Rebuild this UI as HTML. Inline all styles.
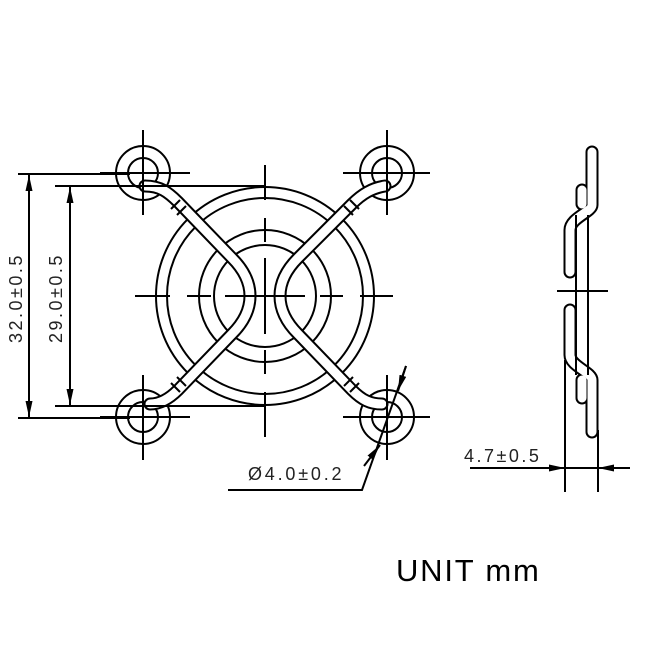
<!DOCTYPE html>
<html><head><meta charset="utf-8"><style>
html,body{margin:0;padding:0;background:#fff}
svg{display:block}
text{font-family:"Liberation Sans",sans-serif;fill:#222}
</style></head><body>
<svg width="645" height="645" viewBox="0 0 645 645" xmlns="http://www.w3.org/2000/svg">
<defs>
<marker id="a" viewBox="0 0 16 10" refX="16" refY="5" markerWidth="16" markerHeight="10" orient="auto-start-reverse" markerUnits="userSpaceOnUse"><path d="M0,1.5 L16,5 L0,8.5z" fill="#000"/></marker>
</defs>
<g fill="none" stroke="#000" stroke-width="2">
<circle cx="265" cy="296" r="109"/>
<circle cx="265" cy="296" r="98"/>
<circle cx="265" cy="296" r="66"/>
<circle cx="265" cy="296" r="51"/>
<circle cx="143" cy="173" r="27"/><circle cx="143" cy="173" r="15"/>
<circle cx="387" cy="173" r="27"/><circle cx="387" cy="173" r="15"/>
<circle cx="143" cy="417" r="27"/><circle cx="143" cy="417" r="15"/>
<circle cx="387" cy="417" r="27"/><circle cx="387" cy="417" r="15"/>
</g>
<g fill="none" stroke-linecap="round" stroke-linejoin="round">
<path d="M145,186 C160,186 168,192 178,202 L232,258 C256,282 256,310 232,334 L178,390 C170,398 160,404 150,404" stroke="#000" stroke-width="13"/>
<path d="M145,186 C160,186 168,192 178,202 L232,258 C256,282 256,310 232,334 L178,390 C170,398 160,404 150,404" stroke="#fff" stroke-width="9"/>
<path d="M385,186 C372,188 362,194 352,204 L298,258 C274,282 274,310 298,334 L352,390 C362,400 370,404 382,404" stroke="#000" stroke-width="13"/>
<path d="M385,186 C372,188 362,194 352,204 L298,258 C274,282 274,310 298,334 L352,390 C362,400 370,404 382,404" stroke="#fff" stroke-width="9"/>
</g>
<g stroke="#000" stroke-width="2" fill="none">
<line x1="171" y1="209" x2="180" y2="200"/><line x1="177" y1="215" x2="186" y2="206"/>
<line x1="171" y1="383" x2="180" y2="392"/><line x1="177" y1="377" x2="186" y2="386"/>
<line x1="359" y1="209" x2="350" y2="200"/><line x1="353" y1="215" x2="344" y2="206"/>
<line x1="359" y1="383" x2="350" y2="392"/><line x1="353" y1="377" x2="344" y2="386"/>
<line x1="265" y1="165" x2="265" y2="200"/><line x1="265" y1="218" x2="265" y2="242"/>
<line x1="265" y1="258" x2="265" y2="334"/><line x1="265" y1="350" x2="265" y2="374"/>
<line x1="265" y1="392" x2="265" y2="437"/>
<line x1="135" y1="296" x2="170" y2="296"/><line x1="187" y1="296" x2="211" y2="296"/>
<line x1="225" y1="296" x2="305" y2="296"/><line x1="320" y1="296" x2="343" y2="296"/>
<line x1="360" y1="296" x2="393" y2="296"/>
<line x1="143" y1="130" x2="143" y2="215"/><line x1="100" y1="173" x2="190" y2="173"/>
<line x1="387" y1="130" x2="387" y2="215"/><line x1="343" y1="173" x2="430" y2="173"/>
<line x1="143" y1="375" x2="143" y2="460"/><line x1="100" y1="417" x2="190" y2="417"/>
<line x1="387" y1="375" x2="387" y2="460"/><line x1="343" y1="417" x2="430" y2="417"/>
<line x1="18" y1="174" x2="130" y2="174"/><line x1="18" y1="418" x2="130" y2="418"/>
<line x1="55" y1="186" x2="265" y2="186"/><line x1="55" y1="406" x2="265" y2="406"/>
<line x1="29" y1="175" x2="29" y2="417" marker-start="url(#a)" marker-end="url(#a)"/>
<line x1="70" y1="187" x2="70" y2="405" marker-start="url(#a)" marker-end="url(#a)"/>
<polyline points="228,490 362,490 406,366"/>
<line x1="364" y1="466" x2="380" y2="445" marker-end="url(#a)"/>
<line x1="406" y1="366" x2="398" y2="391" marker-end="url(#a)"/>
<line x1="557" y1="291" x2="608" y2="291"/>
<line x1="565" y1="360" x2="565" y2="492"/><line x1="598" y1="430" x2="598" y2="492"/>
<line x1="470" y1="468" x2="565" y2="468" marker-end="url(#a)"/>
<line x1="630" y1="468" x2="598" y2="468" marker-end="url(#a)"/>
<line x1="565" y1="468" x2="598" y2="468"/>
</g>
<g fill="none" stroke-linecap="round" stroke-linejoin="round">
<g stroke="#000" stroke-width="13">
<path d="M582,190 L582,204"/><path d="M582,380 L582,398"/>
<path d="M592,152 L592,205 C592,212 570,218 570,230 L570,272"/>
<path d="M570,310 L570,355 C570,366 592,372 592,380 L592,432"/>
</g>
<g stroke="#fff" stroke-width="9">
<path d="M582,190 L582,204"/><path d="M582,380 L582,398"/>
<path d="M592,152 L592,205 C592,212 570,218 570,230 L570,272"/>
<path d="M570,310 L570,355 C570,366 592,372 592,380 L592,432"/>
</g>
</g>
<g stroke="#000" stroke-width="2">
<line x1="576" y1="215" x2="576" y2="375"/><line x1="588" y1="215" x2="588" y2="375"/>
</g>
<text x="0" y="0" font-size="18" transform="translate(22,343) rotate(-90)" letter-spacing="2.5">32.0±0.5</text>
<text x="0" y="0" font-size="18" transform="translate(62,343) rotate(-90)" letter-spacing="2.5">29.0±0.5</text>
<text x="248" y="480" font-size="18" letter-spacing="2.8">Ø4.0±0.2</text>
<text x="464" y="462" font-size="18" letter-spacing="2.5">4.7±0.5</text>
<text x="396" y="581" font-size="31" letter-spacing="1.8" style="fill:#000">UNIT mm</text>
</svg>
</body></html>
